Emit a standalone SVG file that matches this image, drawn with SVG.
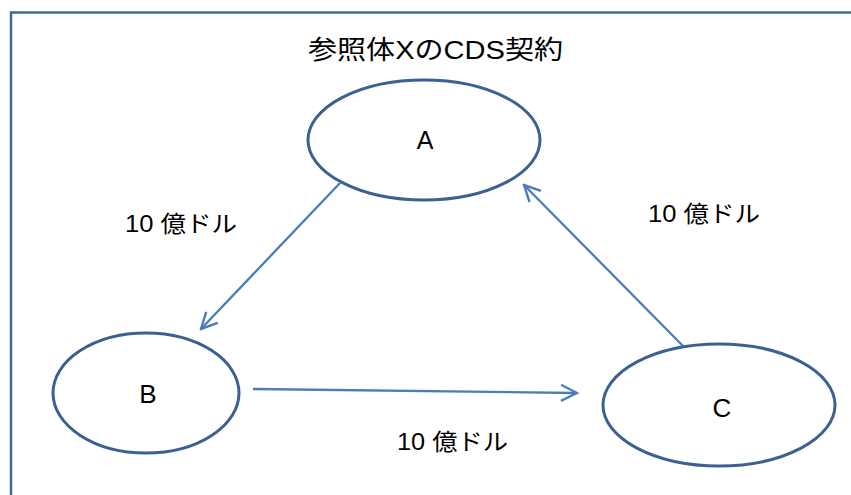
<svg xmlns="http://www.w3.org/2000/svg" width="851" height="495" viewBox="0 0 851 495">
<defs>
<style>
.frame{fill:none;stroke:#41679b;stroke-width:2.5}
.node{fill:#ffffff;stroke:#3b6190;stroke-width:3}
.edge{fill:none;stroke:#4a7ebb;stroke-width:2.3}
.t{font-family:"Liberation Sans","Noto Sans CJK JP",sans-serif;fill:#000000}
</style>
<marker id="arr" viewBox="0 0 20 20" refX="18" refY="10" markerWidth="20" markerHeight="20" markerUnits="userSpaceOnUse" orient="auto">
<path d="M2,2 L18,10 L2,18" fill="none" stroke="#4a7ebb" stroke-width="2.4"/>
</marker>
</defs>
<rect width="851" height="495" fill="#ffffff"/>
<path class="frame" d="M11,495 L11,12.5 L851,12.5"/>
<text class="t" x="308" y="59" font-size="26" textLength="255" lengthAdjust="spacingAndGlyphs">参照体XのCDS契約</text>
<g id="connectors">
<line class="edge" x1="340" y1="183" x2="201" y2="329" marker-end="url(#arr)"/>
<line class="edge" x1="683" y1="346" x2="524" y2="185" marker-end="url(#arr)"/>
<line class="edge" x1="253" y1="389" x2="577" y2="393" marker-end="url(#arr)"/>
</g>
<g id="A">
<ellipse class="node" cx="424" cy="140" rx="116" ry="60"/>
<text class="t" x="425" y="149" font-size="25" text-anchor="middle">A</text>
</g>
<g id="B">
<ellipse class="node" cx="146" cy="393" rx="93" ry="60"/>
<text class="t" x="148" y="403" font-size="26" text-anchor="middle">B</text>
</g>
<g id="C">
<ellipse class="node" cx="719" cy="405" rx="116" ry="61"/>
<text class="t" x="722" y="417" font-size="26" text-anchor="middle">C</text>
</g>
<g id="labels">
<text class="t" x="125" y="232" font-size="23" textLength="112" lengthAdjust="spacingAndGlyphs">10 億ドル</text>
<text class="t" x="648" y="222" font-size="23" textLength="112" lengthAdjust="spacingAndGlyphs">10 億ドル</text>
<text class="t" x="397" y="450" font-size="23" textLength="111" lengthAdjust="spacingAndGlyphs">10 億ドル</text>
</g>
</svg>
